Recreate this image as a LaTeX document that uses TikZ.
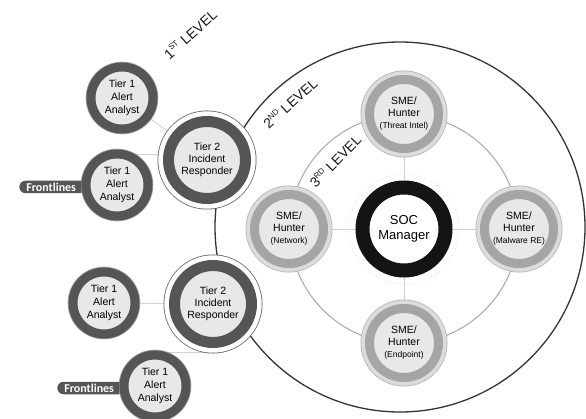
\documentclass[tikz,border=0pt]{standalone}
\usepackage{fontspec}
\setmainfont{Liberation Sans}
\newfontfamily\frontfont{Carlito}
\usetikzlibrary{backgrounds,shapes.misc}
\definecolor{tierdark}{HTML}{555555}
\definecolor{tierfill}{HTML}{E8E8E8}
\definecolor{smeband}{HTML}{A5A5A5}
\definecolor{smelight}{HTML}{DCDCDC}
\definecolor{smeedge}{HTML}{B5B5B5}
\definecolor{linkgray}{HTML}{D2D2D2}
\definecolor{ringgray}{HTML}{ADADAD}
\newcommand{\levelsup}[2]{#1\raisebox{0.42em}{\fontsize{8}{8}\selectfont #2}}
\newcommand{\smenote}[1]{{\fontsize{8.5}{10}\selectfont #1}}

\begin{document}
\begin{tikzpicture}[x=1pt, y=-1pt,
  tierone/.style={circle, inner sep=0pt, minimum size=62pt, line width=9pt, draw=tierdark, fill=tierfill, preaction={draw=tierdark!55, line width=10.6pt}, align=center, font=\fontsize{10.5}{13}\selectfont},
  tiertwo/.style={circle, inner sep=0pt, minimum size=77pt, line width=11pt, draw=tierdark, fill=tierfill, preaction={draw=tierdark!90, line width=22pt}, preaction={draw=white, line width=20.4pt}, align=center, font=\fontsize{10.5}{12}\selectfont},
  smebox/.style={circle, inner sep=0pt, minimum size=69pt, line width=9pt, draw=smeband, fill=tierfill, preaction={draw=smeedge, line width=18pt}, preaction={draw=smelight, line width=16.4pt}, align=center, font=\fontsize{10.5}{12}\selectfont},
  socbox/.style={circle, inner sep=0pt, minimum size=83pt, line width=14pt, draw=black!92, fill=white, align=center, font=\fontsize{13}{15}\selectfont},
  frontline/.style={rounded rectangle, rounded rectangle right arc=none, fill=tierdark, text=white, font=\frontfont\bfseries\fontsize{12}{12}\selectfont, minimum height=12.5pt, minimum width=74pt, inner ysep=0pt, inner xsep=6pt, anchor=east},
  levellabel/.style={font=\fontsize{14}{14}\selectfont, inner sep=0pt, text=black!90},
  link/.style={draw=linkgray, line width=0.8pt},
  ring/.style={draw=ringgray, line width=1.1pt},
  bigring/.style={draw=black!80, line width=1.3pt},
  socdots/.style={draw=black!25, line width=0.5pt, dotted},
]
\useasboundingbox (0,0) rectangle (586,419);

\node[socbox] (soc) at (404,229) {SOC\\Manager};
\node[smebox] (intel) at (404,114) {SME/\\Hunter\\\smenote{(Threat Intel)}};
\node[smebox] (network) at (289,229) {SME/\\Hunter\\\smenote{(Network)}};
\node[smebox] (malware) at (519,229) {SME/\\Hunter\\\smenote{(Malware RE)}};
\node[smebox] (endpoint) at (404,343) {SME/\\Hunter\\\smenote{(Endpoint)}};

\node[tiertwo] (t2a) at (207,160) {Tier 2\\Incident\\Responder};
\node[tiertwo] (t2b) at (213,304) {Tier 2\\Incident\\Responder};
\node[tierone] (t1a) at (122,98) {Tier 1\\Alert\\Analyst};
\node[tierone] (t1b) at (117,185) {Tier 1\\Alert\\Analyst};
\node[tierone] (t1c) at (104,303) {Tier 1\\Alert\\Analyst};
\node[tierone] (t1d) at (155,386) {Tier 1\\Alert\\Analyst};

\node[frontline] (front1) at ([yshift=-2pt]t1b.west) {Frontlines};
\node[frontline] (front2) at ([yshift=-2pt]t1d.west) {Frontlines};

\node[levellabel, rotate=42] (lvl1) at (190,34) {\levelsup{1}{ST} LEVEL};
\node[levellabel, rotate=42] (lvl2) at (290,103) {\levelsup{2}{ND} LEVEL};
\node[levellabel, rotate=46] (lvl3) at (335,161) {\levelsup{3}{RD} LEVEL};

\begin{scope}[on background layer]
\draw[bigring] (400,227) circle (185pt);
\draw[ring] (soc.center) circle (114.5pt);
\draw[socdots] (soc.center) circle (55pt);
\foreach \s in {intel,network,malware,endpoint}
  \draw[link] (soc) -- (\s);
\draw[link] (t1a) -- (t2a);
\draw[link] (t1b.60) -- (t1b.60 -| t2a);
\draw[link] (t1c) -- (t2b);
\draw[link] (t1d.72) -- (t1d.72 -| t2b);
\end{scope}
\end{tikzpicture}
\end{document}
